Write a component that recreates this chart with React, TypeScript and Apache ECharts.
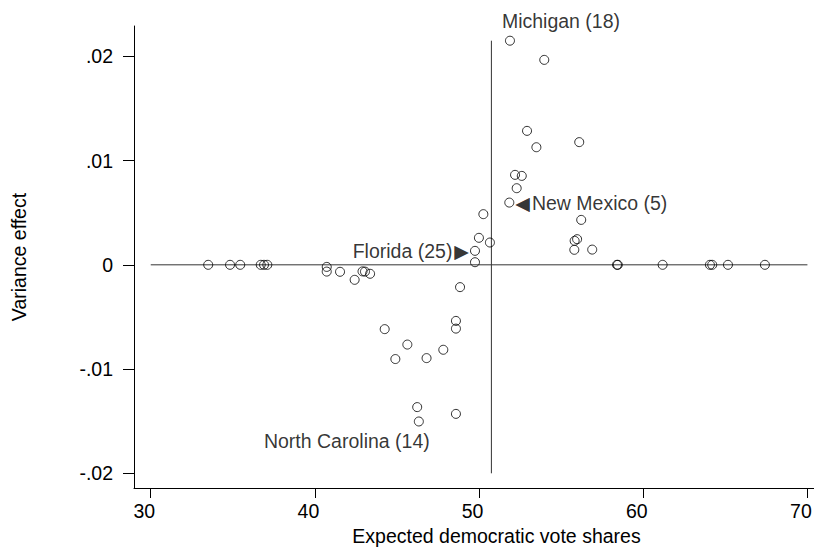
import { useEffect, useRef } from "react";
import * as echarts from "echarts";

// Expected democratic vote share (x) and variance effect (y), one entry per state
const voteShare: number[] = [
  33.5, 34.83, 35.45, 36.7, 36.9, 37.1,
  40.72, 40.72, 41.53, 42.42, 42.9, 43.05, 43.36,
  44.25, 45.63, 44.9, 46.23, 46.33, 46.8, 47.82,
  48.59, 48.59, 48.59, 48.84, 49.75, 49.75, 49.99, 50.66, 50.26,
  51.84, 52.29, 52.19, 52.6, 52.92, 53.49, 53.97, 51.88,
  56.1, 56.22, 55.97, 55.82, 55.8, 56.89,
  58.4, 58.45, 61.18, 64.06, 64.2, 65.16, 67.41,
];
const varianceEffect: number[] = [
  0, 0, 0, 0, 0, 0,
  -0.0002, -0.00065, -0.00067, -0.00144, -0.00063, -0.00065, -0.00086,
  -0.00617, -0.00765, -0.00904, -0.01365, -0.01503, -0.00895, -0.00815,
  -0.00538, -0.00612, -0.0143, -0.00214, 0.00025, 0.00134, 0.00259, 0.00214, 0.00486,
  0.00597, 0.00735, 0.00863, 0.00853, 0.01285, 0.01128, 0.01966, 0.0215,
  0.01177, 0.00431, 0.00246, 0.0023, 0.00144, 0.00146,
  0, 0, 0, 0, 0, 0, 0,
];

// Named states: index into the arrays above, and the electoral votes shown
const labelIndex: number[] = [36, 29, 25, 17];
const labelText: string[] = ["Michigan (18)", "New Mexico (5)", "Florida (25)", "North Carolina (14)"];

const xTicks: number[] = [30, 40, 50, 60, 70];
const yTicks: number[] = [-0.02, -0.01, 0, 0.01, 0.02];
const yTickLabels: string[] = ["-.02", "-.01", "0", ".01", ".02"];

// Reference lines: zero effect across the x range, split at the 50% mark
const zeroLineX: number[] = [30, 70];
const splitX = 50.75;
const splitLineY: number[] = [-0.02, 0.0215];

const FONT = "'Liberation Sans', Arial, Helvetica, sans-serif";
const FS = 19.5;
const ARROW_FONT = "'DejaVu Sans', sans-serif";
const ARROW_FS = 19;

function labelFor(i: number): any {
  const k = labelIndex.indexOf(i);
  if (k < 0) return undefined;
  const text = labelText[k];
  const base = { show: true, color: "#000", fontFamily: FONT, fontSize: FS };
  if (k === 0) {
    return { ...base, position: "top", distance: 5, offset: [51, 0], formatter: text };
  }
  if (k === 1) {
    return {
      ...base,
      position: "right",
      distance: 1,
      formatter: `{a|\u25C0}{t|${text}}`,
      rich: {
        a: { fontFamily: ARROW_FONT, fontSize: ARROW_FS, color: "#000", padding: [0, 2, 0, 0] },
        t: { fontFamily: FONT, fontSize: FS, color: "#000" },
      },
    };
  }
  if (k === 2) {
    return {
      ...base,
      position: "left",
      distance: 1,
      formatter: `{t|${text}}{a|\u25B6}`,
      rich: {
        a: { fontFamily: ARROW_FONT, fontSize: ARROW_FS, color: "#000", padding: [0, 0, 0, 2] },
        t: { fontFamily: FONT, fontSize: FS, color: "#000" },
      },
    };
  }
  return { ...base, position: "bottom", distance: 5, offset: [-72, 0], formatter: text };
}

export default function App() {
  const ref = useRef<HTMLDivElement>(null);

  useEffect(() => {
    if (!ref.current) return;
    const chart = echarts.init(ref.current, undefined, { renderer: "svg" });

    const points = voteShare.map((x, i) => {
      const item: any = { value: [x, varianceEffect[i]] };
      const lab = labelFor(i);
      if (lab) item.label = lab;
      return item;
    });

    chart.setOption({
      animation: false,
      backgroundColor: "#fff",
      textStyle: { fontFamily: FONT },
      grid: { left: 134, right: 0, top: 26, bottom: 62, outerBoundsMode: "none" },
      xAxis: {
        type: "value",
        min: 28.98,
        max: 70.4,
        name: "Expected democratic vote shares",
        nameLocation: "middle",
        nameGap: 31,
        nameTextStyle: {
          color: "#000",
          fontSize: FS,
          fontFamily: FONT,
          padding: [0, 0, 0, 45],
          verticalAlign: "top",
        },
        axisLine: { show: true, onZero: false, lineStyle: { color: "#000", width: 1 } },
        axisTick: {
          show: true,
          length: 10,
          customValues: xTicks,
          lineStyle: { color: "#000", width: 1 },
        },
        axisLabel: {
          customValues: xTicks,
          color: "#000",
          fontSize: FS,
          fontFamily: FONT,
          margin: 13,
          padding: [0, 13, 0, 0],
        },
        splitLine: { show: false },
      },
      yAxis: {
        type: "value",
        min: -0.02141,
        max: 0.02291,
        name: "Variance effect",
        nameLocation: "middle",
        nameGap: 105,
        nameTextStyle: { color: "#000", fontSize: FS, fontFamily: FONT },
        axisLine: { show: true, onZero: false, lineStyle: { color: "#000", width: 1 } },
        axisTick: {
          show: true,
          length: 11,
          customValues: yTicks,
          lineStyle: { color: "#000", width: 1 },
        },
        axisLabel: {
          customValues: yTicks,
          color: "#000",
          fontSize: FS,
          fontFamily: FONT,
          margin: 21,
          formatter: (v: number) => {
            const k = yTicks.findIndex((t) => Math.abs(t - v) < 1e-9);
            return k >= 0 ? yTickLabels[k] : "";
          },
        },
        splitLine: { show: false },
      },
      series: [
        {
          type: "line",
          data: zeroLineX.map((x) => [x, 0]),
          symbol: "none",
          silent: true,
          lineStyle: { color: "#333", width: 1 },
          z: 1,
        },
        {
          type: "line",
          data: splitLineY.map((y) => [splitX, y]),
          symbol: "none",
          silent: true,
          lineStyle: { color: "#333", width: 1 },
          z: 1,
        },
        {
          type: "scatter",
          data: points,
          symbol: "circle",
          symbolSize: 9,
          itemStyle: { color: "rgba(0,0,0,0)", borderColor: "#000", borderWidth: 1 },
          emphasis: { disabled: true },
          z: 3,
        },
      ],
    });

    return () => chart.dispose();
  }, []);

  return (
    <div
      ref={ref}
      style={{ position: "fixed", left: 0, top: 0, width: 814, height: 550, background: "#fff" }}
    />
  );
}
